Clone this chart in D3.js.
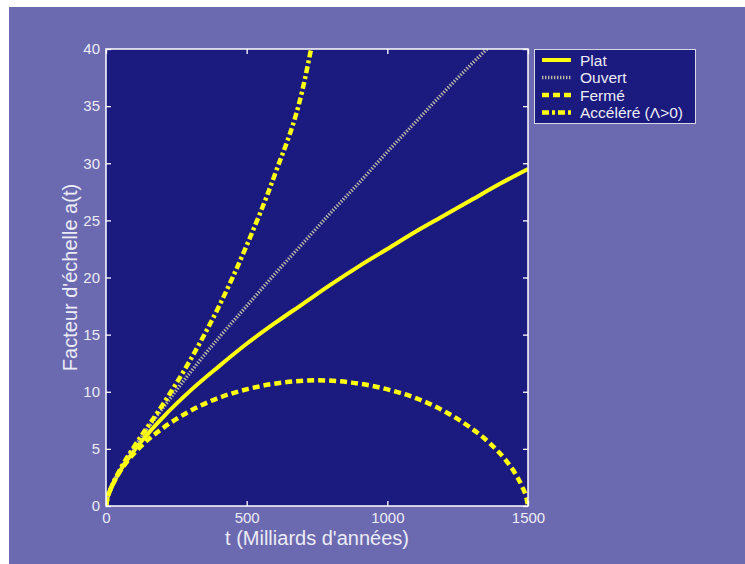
<!DOCTYPE html>
<html><head><meta charset="utf-8">
<script src="https://cdn.jsdelivr.net/npm/d3@7"></script>
<style>body{margin:0;background:#fff}svg{display:block}</style>
</head><body>
<svg id="c" width="745" height="564"></svg>
<script>
// Data
const platT = [0,5,20,50,100,200,300,400,500,600,700,800,900,1000,1100,1200,1300,1400,1500];
const platA = [0,0.66,1.66,3.06,4.85,7.7,10.1,12.2,14.2,16.0,17.7,19.4,21.0,22.5,24.0,25.4,26.8,28.2,29.5];
const ouvertT = [0,5,20,50,100,200,300,400,500,600,700,800,900,1000,1100,1200,1300,1354];
const ouvertA = [0,0.7,1.7,3.15,5.1,8.5,11.7,14.7,17.5,20.3,23.0,25.7,28.3,31.0,33.6,36.2,38.7,40];
const fermeT = [0,6,19,43,82,136,207,294,394,506,626,750,874,994,1106,1206,1293,1364,1418,1457,1481,1494,1500];
const fermeA = [0,0.74,1.6,2.75,4.1,5.5,6.9,8.25,9.4,10.25,10.8,11,10.8,10.25,9.4,8.25,6.9,5.5,4.1,2.75,1.6,0.74,0];
const accelT = [0,5,20,50,100,200,300,400,500,600,700,729];
const accelA = [0,0.7,1.7,3.2,5.2,8.8,12.8,17.4,22.8,29.0,36.6,40];
const xTicks = [0,500,1000,1500];
const yTicks = [0,5,10,15,20,25,30,35,40];
const legendLabels = ["Plat","Ouvert","Fermé","Accéléré (\u039B>0)"];

const svg = d3.select("#c");
const W=745,H=564;
const L=106,R=528,T=49,B=506;
const txt="#ececf6", font="'Liberation Sans', Arial, sans-serif";
svg.append("rect").attr("x",9).attr("y",7).attr("width",W-9).attr("height",H-7).attr("fill","#6b69b0");
const x=d3.scaleLinear().domain([0,1500]).range([L,R]);
const y=d3.scaleLinear().domain([0,40]).range([B,T]);
svg.append("rect").attr("x",L).attr("y",T).attr("width",R-L).attr("height",B-T).attr("fill","#1b1a7e");
svg.append("defs").append("clipPath").attr("id","clip").append("rect").attr("x",L).attr("y",T).attr("width",R-L).attr("height",B-T);

const series=[
 {t:platT,a:platA,stroke:"#ffff10",w:4,dash:null},
 {t:ouvertT,a:ouvertA,stroke:"#b9b8a6",w:3.5,dash:"1.4,1.6"},
 {t:fermeT,a:fermeA,stroke:"#ffff10",w:4.5,dash:"7,4"},
 {t:accelT,a:accelA,stroke:"#ffff10",w:4.5,dash:"7,3,3,3"}
];
const line=d3.line().x(d=>x(d[0])).y(d=>y(d[1])).curve(d3.curveMonotoneX);
const g=svg.append("g").attr("clip-path","url(#clip)");
series.forEach(s=>{
  g.append("path").datum(s.t.map((t,i)=>[t,s.a[i]])).attr("d",line)
   .attr("fill","none").attr("stroke",s.stroke).attr("stroke-width",s.w)
   .attr("stroke-dasharray",s.dash).attr("stroke-linejoin","round");
});

// Axes (ticks inward on all sides)
function styleAxis(sel){
  sel.select(".domain").remove();
  sel.selectAll("line").attr("stroke","#fff").attr("stroke-width",1.3);
  sel.selectAll("text").attr("fill",txt).attr("font-family",font).attr("font-size",15);
}
svg.append("g").attr("transform",`translate(0,${B})`).call(d3.axisBottom(x).tickValues(xTicks).tickSizeInner(-5).tickSizeOuter(0).tickPadding(6).tickFormat(d3.format("d"))).call(styleAxis);
svg.append("g").attr("transform",`translate(0,${T})`).call(d3.axisTop(x).tickValues(xTicks).tickSizeInner(-5).tickSizeOuter(0).tickFormat("")).call(styleAxis);
svg.append("g").attr("transform",`translate(${L},0)`).call(d3.axisLeft(y).tickValues(yTicks).tickSizeInner(-5).tickSizeOuter(0).tickPadding(6).tickFormat(d3.format("d"))).call(styleAxis);
svg.append("g").attr("transform",`translate(${R},0)`).call(d3.axisRight(y).tickValues(yTicks).tickSizeInner(-5).tickSizeOuter(0).tickFormat("")).call(styleAxis);
svg.append("rect").attr("x",L).attr("y",T).attr("width",R-L).attr("height",B-T).attr("fill","none").attr("stroke","#fff").attr("stroke-width",1.5);

// Axis titles
svg.append("text").attr("x",(L+R)/2).attr("y",545).attr("text-anchor","middle").attr("fill",txt).attr("font-family",font).attr("font-size",20).text("t (Milliards d'années)");
svg.append("text").attr("transform",`translate(77,${(T+B)/2}) rotate(-90)`).attr("text-anchor","middle").attr("fill",txt).attr("font-family",font).attr("font-size",20).text("Facteur d'échelle a(t)");

// Legend
const lg=svg.append("g");
lg.append("rect").attr("x",534.5).attr("y",49.5).attr("width",161).attr("height",74).attr("fill","#1b1a7e").attr("stroke","#d8d8e8").attr("stroke-width",1);
legendLabels.forEach((lab,i)=>{
  const yy=60+i*17.5, s=series[i];
  lg.append("line").attr("x1",542).attr("x2",571).attr("y1",yy).attr("y2",yy)
    .attr("stroke",s.stroke).attr("stroke-width",s.w).attr("stroke-dasharray",s.dash);
  lg.append("text").attr("x",580).attr("y",yy+5.5).attr("fill",txt).attr("font-family",font).attr("font-size",15.5).text(lab);
});
</script>
</body></html>
